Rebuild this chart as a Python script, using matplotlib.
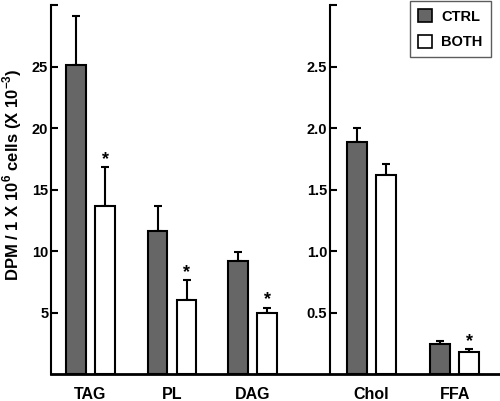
import matplotlib
matplotlib.use("Agg")
import matplotlib.pyplot as plt
from matplotlib.patches import Patch
import numpy as np

plt.rcParams['font.family'] = ['Liberation Sans', 'DejaVu Sans']
plt.rcParams['font.weight'] = 'bold'
plt.rcParams['mathtext.fontset'] = 'custom'
plt.rcParams['mathtext.rm'] = 'Liberation Sans:bold'
plt.rcParams['mathtext.bf'] = 'Liberation Sans:bold'

# Data
left_cats = ["TAG", "PL", "DAG"]
left_ctrl = [25.1, 11.6, 9.2]
left_ctrl_err = [4.0, 2.1, 0.7]
left_both = [13.7, 6.05, 4.95]
left_both_err = [3.1, 1.6, 0.45]
left_sig = [True, True, True]

right_cats = ["Chol", "FFA"]
right_ctrl = [1.89, 0.243]
right_ctrl_err = [0.11, 0.025]
right_both = [1.615, 0.181]
right_both_err = [0.095, 0.022]
right_sig = [False, True]

left_ticks = [5, 10, 15, 20, 25, 30]
left_ticklabels = ["5", "10", "15", "20", "25", ""]
right_ticks = [0.5, 1.0, 1.5, 2.0, 2.5, 3.0]
right_ticklabels = ["0.5", "1.0", "1.5", "2.0", "2.5", ""]

series_names = ["CTRL", "BOTH"]
ctrl_color = "#666666"
both_color = "#ffffff"

left_x = np.array([0.0, 1.0, 1.99])
right_x = np.array([3.45, 4.47])
width = 0.245
off = 0.178

fig = plt.figure(figsize=(5.0, 4.01), dpi=100)
ax = fig.add_axes([0.102, 0.0673, 0.898, 0.920])
ax2 = fig.add_axes([0.66, 0.0673, 0.34, 0.920])

xl0, xl1 = -0.485, 5.025
ax.set_xlim(xl0, xl1)
ax2.set_xlim((330 - 90.5) / 81.5, xl1)
ax.set_ylim(0, 30)
ax2.set_ylim(0, 3.0)

ekw = dict(elinewidth=1.5, capthick=1.5, ecolor='black')

def draw(a, xs, ctrl, ctrl_e, both, both_e, sig):
    a.bar(xs - off, ctrl, width, color=ctrl_color, edgecolor='black', linewidth=1.5, zorder=2)
    a.bar(xs + off, both, width, color=both_color, edgecolor='black', linewidth=1.5, zorder=2)
    a.errorbar(xs - off, ctrl, yerr=[np.zeros(len(ctrl)), ctrl_e], fmt='none', capsize=2.7, **ekw, zorder=1)
    a.errorbar(xs + off, both, yerr=[np.zeros(len(both)), both_e], fmt='none', capsize=2.7, **ekw, zorder=1)
    for x, v, e, s in zip(xs, both, both_e, sig):
        if s:
            a.annotate("*", (x + off, v + e), xytext=(0, -0.5), textcoords='offset points',
                       ha='center', va='bottom', fontsize=13, fontweight='bold')

draw(ax, left_x, left_ctrl, left_ctrl_err, left_both, left_both_err, left_sig)
draw(ax2, right_x, right_ctrl, right_ctrl_err, right_both, right_both_err, right_sig)

for a in (ax, ax2):
    a.spines['top'].set_visible(False)
    a.spines['right'].set_visible(False)
    a.spines['left'].set_linewidth(1.5)
    a.tick_params(axis='y', direction='in', length=5, width=1.5, labelsize=10.5, pad=2)

ax.spines['bottom'].set_linewidth(2)
ax2.spines['bottom'].set_visible(False)
ax2.patch.set_visible(False)

ax.set_yticks(left_ticks)
ax.set_yticklabels(left_ticklabels, fontweight='bold')
ax2.set_yticks(right_ticks)
ax2.set_yticklabels(right_ticklabels, fontweight='bold')

ax.set_xticks(list(left_x) + list(right_x))
ax.set_xticklabels(left_cats + right_cats, fontsize=11.5, fontweight='bold')
ax.tick_params(axis='x', length=0, pad=9)
ax2.set_xticks([])

ax.set_ylabel("DPM / 1 X 10$^{6}$ cells (X 10$^{-3}$)", fontsize=12, fontweight='bold')
ax.yaxis.set_label_coords(-0.061, 0.54)

handles = [Patch(facecolor=ctrl_color, edgecolor='black', linewidth=1.2),
           Patch(facecolor=both_color, edgecolor='black', linewidth=1.2)]
leg = fig.legend(handles, series_names, loc='upper right', bbox_to_anchor=(0.981, 0.997),
                 borderaxespad=0.0,
                 frameon=True, fancybox=False, edgecolor='#333333',
                 handlelength=1.0, handleheight=1.0, labelspacing=0.75,
                 borderpad=0.55, handletextpad=0.6, prop={'weight': 'bold', 'size': 10.5})
leg.get_frame().set_linewidth(1.0)

fig.savefig("out.png", dpi=100)
